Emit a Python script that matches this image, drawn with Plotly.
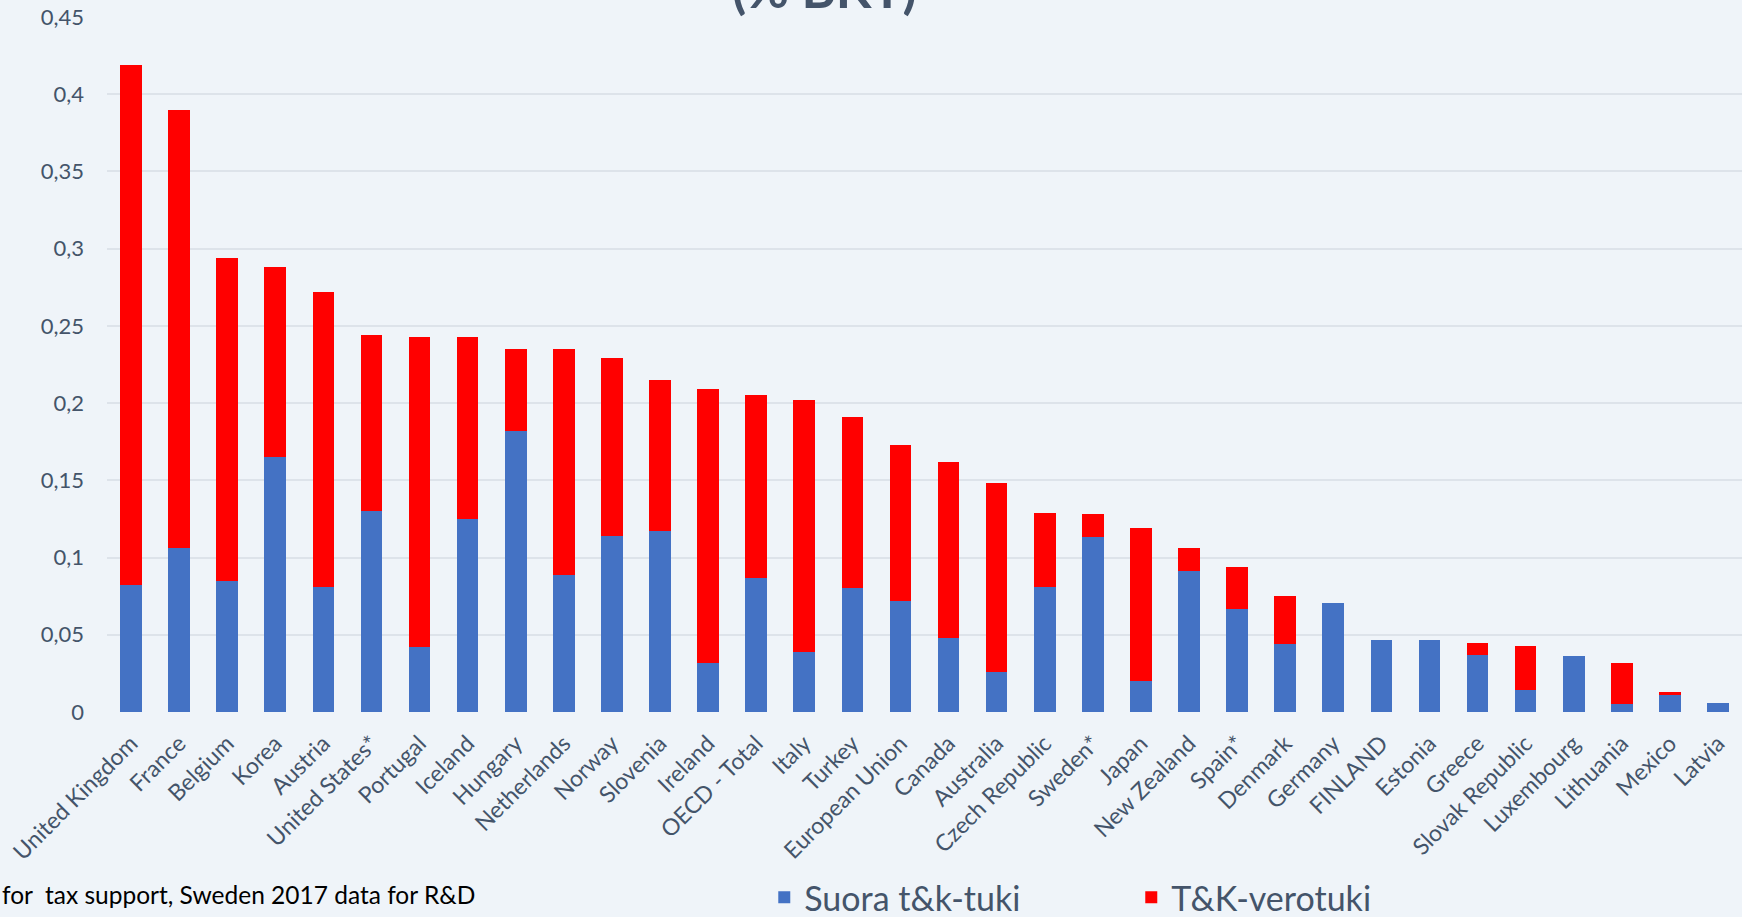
import plotly.graph_objects as go

countries = ["United Kingdom", "France", "Belgium", "Korea", "Austria", "United States*",
             "Portugal", "Iceland", "Hungary", "Netherlands", "Norway", "Slovenia", "Ireland",
             "OECD - Total", "Italy", "Turkey", "European Union", "Canada", "Australia",
             "Czech Republic", "Sweden*", "Japan", "New Zealand", "Spain*", "Denmark", "Germany",
             "FINLAND", "Estonia", "Greece", "Slovak Republic", "Luxembourg", "Lithuania",
             "Mexico", "Latvia"]

# Suora t&k-tuki (direct support), % of GDP
direct = [0.082, 0.106, 0.085, 0.165, 0.081, 0.130,
          0.042, 0.125, 0.182, 0.089, 0.114, 0.117, 0.032,
          0.087, 0.039, 0.080, 0.072, 0.048, 0.026,
          0.081, 0.113, 0.020, 0.091, 0.067, 0.044, 0.0705,
          0.0465, 0.0465, 0.037, 0.0145, 0.036, 0.0055,
          0.0113, 0.006]

# Total (direct + tax support), % of GDP
total = [0.419, 0.390, 0.294, 0.288, 0.272, 0.244,
         0.243, 0.243, 0.235, 0.235, 0.229, 0.215, 0.209,
         0.205, 0.202, 0.191, 0.173, 0.162, 0.148,
         0.129, 0.128, 0.119, 0.106, 0.094, 0.075, 0.0705,
         0.0465, 0.0465, 0.045, 0.0425, 0.036, 0.0315,
         0.0132, 0.006]

tax = [round(t - d, 4) for t, d in zip(total, direct)]

y_ticks = [0, 0.05, 0.1, 0.15, 0.2, 0.25, 0.3, 0.35, 0.4, 0.45]
y_tick_text = ["0", "0,05", "0,1", "0,15", "0,2", "0,25", "0,3", "0,35", "0,4", "0,45"]

BG = "#EFF4F9"
TXT = "#44546A"
FONT = "Lato"

fig = go.Figure()
fig.add_trace(go.Bar(x=countries, y=direct, name="Suora t&k-tuki",
                     marker=dict(color="#4472C4", line=dict(width=0))))
fig.add_trace(go.Bar(x=countries, y=tax, name="T&K-verotuki",
                     marker=dict(color="#FF0000", line=dict(width=0))))

fig.update_layout(
    barmode="stack",
    bargap=0.55,
    width=1742, height=917,
    paper_bgcolor=BG, plot_bgcolor=BG,
    margin=dict(l=107, r=0, t=17, b=205, autoexpand=False),
    font=dict(family=FONT, color=TXT),
    showlegend=True,
    legend=dict(orientation="h", traceorder="normal",
                x=0.402, xanchor="left", yref="container", y=0.021, yanchor="middle",
                font=dict(size=34, color=TXT, family=FONT),
                entrywidth=322, entrywidthmode="pixels",
                bgcolor="rgba(0,0,0,0)"),
    xaxis=dict(tickangle=-45, tickfont=dict(size=23, color=TXT, family=FONT),
               showgrid=False, showline=False, ticks="outside", ticklen=8,
               tickcolor=BG, zeroline=False, automargin=False),
    yaxis=dict(range=[0, 0.45], tickvals=y_ticks, ticktext=y_tick_text,
               tickfont=dict(size=22, color=TXT, family=FONT),
               showgrid=True, gridcolor="#DDE3EA", gridwidth=2,
               zeroline=False, ticks="", ticklen=0, showline=False,
               ticklabelstandoff=22, automargin=False),
)

fig.add_annotation(text="<b>(% BKT)</b>", xref="paper", yref="paper", x=0.439, y=1,
                   xanchor="center", yanchor="bottom", yshift=-4, showarrow=False,
                   font=dict(size=52, color=TXT, family=FONT))
fig.add_annotation(text="for  tax support, Sweden 2017 data for R&D", xref="paper", yref="paper",
                   x=0, y=-0.263, xanchor="left", yanchor="middle", xshift=-107, showarrow=False,
                   font=dict(size=24.5, color="#000000", family=FONT))

fig.write_html("out.html", config={"displayModeBar": False},
               post_script="document.body.style.margin='0px';")
